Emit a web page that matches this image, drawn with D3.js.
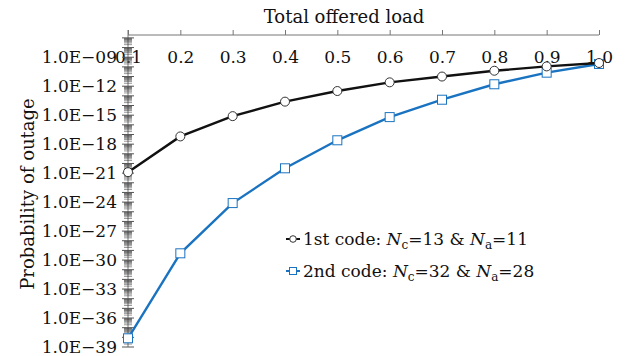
<!DOCTYPE html>
<html>
<head>
<meta charset="utf-8">
<script src="https://cdn.jsdelivr.net/npm/d3@7"></script>
<style>
	body { margin: 0; background: #fff; }
	svg text { font-family: 'DejaVu Serif', serif; fill: #111; }
</style>
</head>
<body>
<div id="chart"></div>
<script>
// offered load on the top axis
var loads = [0.1, 0.2, 0.3, 0.4, 0.5, 0.6, 0.7, 0.8, 0.9, 1.0]
// log10 of outage probability
var code1Exp = [-20.9, -17.2, -15.1, -13.6, -12.5, -11.6, -11.0, -10.4, -9.95, -9.6]
var code2Exp = [-38.1, -29.3, -24.1, -20.5, -17.6, -15.2, -13.4, -11.8, -10.6, -9.7]
var yTickExp = [-39, -36, -33, -30, -27, -24, -21, -18, -15, -12, -9]

var W = 625, H = 356

var svg = d3.select('#chart').append('svg')
	.attr('width', W)
	.attr('height', H)

var xScale = d3.scaleLinear()
	.domain([0.1, 1.0])
	.range([128, 599])

var yScale = d3.scaleLog()
	.domain([1e-39, Math.pow(10, -6.7)])
	.range([347, 35])

var axisColor = '#777'

// top x axis
var xAxis = d3.axisTop(xScale)
	.tickValues(loads)
	.tickSize(5)
	.tickFormat(d3.format('.1f'))

var gx = svg.append('g')
	.attr('transform', 'translate(0,35)')
	.call(xAxis)

gx.select('.domain').attr('stroke', axisColor).attr('d', 'M128,0H599')
gx.selectAll('.tick line').attr('stroke', axisColor)
gx.selectAll('.tick text')
	.attr('y', 22)
	.attr('dy', '0.35em')
	.style('font-family', "'DejaVu Serif', serif")
	.style('font-size', '17px')
	.attr('fill', '#111')

// left y axis, log with minor ticks
var gy = svg.append('g')

gy.append('line')
	.attr('x1', 128).attr('x2', 128)
	.attr('y1', 30).attr('y2', 347)
	.attr('stroke', axisColor)

var minor = []
for (var e = -39; e < -6; e++) {
	for (var m = 2; m <= 9; m++) {
		var v = m * Math.pow(10, e)
		if (v < yScale.domain()[1]) minor.push(v)
	}
}

gy.selectAll('.minor')
	.data(minor)
	.enter().append('line')
	.attr('class', 'minor')
	.attr('x1', 124).attr('x2', 132)
	.attr('y1', function(d) { return yScale(d) })
	.attr('y2', function(d) { return yScale(d) })
	.attr('stroke', '#333')
	.attr('stroke-width', 0.5)

var decades = d3.range(-39, -6).map(function(e) { return Math.pow(10, e) })
gy.selectAll('.major')
	.data(decades)
	.enter().append('line')
	.attr('class', 'major')
	.attr('x1', 122).attr('x2', 134)
	.attr('y1', function(d) { return yScale(d) })
	.attr('y2', function(d) { return yScale(d) })
	.attr('stroke', '#555')

gy.selectAll('.ylab')
	.data(yTickExp)
	.enter().append('text')
	.attr('class', 'ylab')
	.attr('x', 117)
	.attr('y', function(d) { return yScale(Math.pow(10, d)) })
	.attr('dy', '0.33em')
	.attr('text-anchor', 'end')
	.style('font-size', '17px')
	.text(function(d) {
		var n = -d
		return '1.0E\u2212' + (n < 10 ? '0' + n : n)
	})

// titles
svg.append('text')
	.attr('x', 344)
	.attr('y', 23)
	.attr('text-anchor', 'middle')
	.style('font-size', '18px')
	.text('Total offered load')

svg.append('text')
	.attr('transform', 'translate(28,194) rotate(-90)')
	.attr('text-anchor', 'middle')
	.attr('dy', '0.35em')
	.style('font-size', '18px')
	.text('Probability of outage')

// series
var line = d3.line()
	.x(function(d) { return xScale(d[0]) })
	.y(function(d) { return yScale(Math.pow(10, d[1])) })

var s1 = d3.zip(loads, code1Exp)
var s2 = d3.zip(loads, code2Exp)

svg.append('path')
	.datum(s2)
	.attr('d', line)
	.attr('fill', 'none')
	.attr('stroke', '#1a73c0')
	.attr('stroke-width', 2.4)

svg.append('path')
	.datum(s1)
	.attr('d', line)
	.attr('fill', 'none')
	.attr('stroke', '#111')
	.attr('stroke-width', 2.4)

svg.selectAll('.pt2')
	.data(s2)
	.enter().append('rect')
	.attr('class', 'pt2')
	.attr('x', function(d) { return xScale(d[0]) - 4.5 })
	.attr('y', function(d) { return yScale(Math.pow(10, d[1])) - 4.5 })
	.attr('width', 9).attr('height', 9)
	.attr('fill', '#fff')
	.attr('stroke', '#1a73c0')
	.attr('stroke-width', 1)

svg.selectAll('.pt1')
	.data(s1)
	.enter().append('circle')
	.attr('class', 'pt1')
	.attr('cx', function(d) { return xScale(d[0]) })
	.attr('cy', function(d) { return yScale(Math.pow(10, d[1])) })
	.attr('r', 4.5)
	.attr('fill', '#fff')
	.attr('stroke', '#333')
	.attr('stroke-width', 1)

// legend
var legend = [
	{ label: '1st code: ', nc: '13', na: '11', color: '#111', shape: 'circle' },
	{ label: '2nd code: ', nc: '32', na: '28', color: '#1a73c0', shape: 'square' }
]

var lg = svg.selectAll('.legend')
	.data(legend)
	.enter().append('g')
	.attr('class', 'legend')
	.attr('transform', function(d, i) { return 'translate(286,' + (239 + i * 32) + ')' })

lg.append('line')
	.attr('x1', 0).attr('x2', 14)
	.attr('stroke', function(d) { return d.color })
	.attr('stroke-width', 2)

lg.each(function(d) {
	var g = d3.select(this)
	if (d.shape == 'circle') {
		g.append('circle').attr('cx', 7).attr('r', 3.3)
			.attr('fill', '#fff').attr('stroke', '#333')
	} else {
		g.append('rect').attr('x', 3.5).attr('y', -3.5).attr('width', 7).attr('height', 7)
			.attr('fill', '#fff').attr('stroke', d.color)
	}
	var t = g.append('text')
		.attr('x', 17)
		.attr('dy', '0.35em')
		.style('font-size', '17px')
	t.append('tspan').text(d.label)
	t.append('tspan').style('font-style', 'italic').text('N')
	t.append('tspan').attr('dy', '4').style('font-size', '12px').text('c')
	t.append('tspan').attr('dy', '-4').text('=' + d.nc + ' & ')
	t.append('tspan').style('font-style', 'italic').text('N')
	t.append('tspan').attr('dy', '4').style('font-size', '12px').text('a')
	t.append('tspan').attr('dy', '-4').text('=' + d.na)
})
</script>
</body>
</html>
